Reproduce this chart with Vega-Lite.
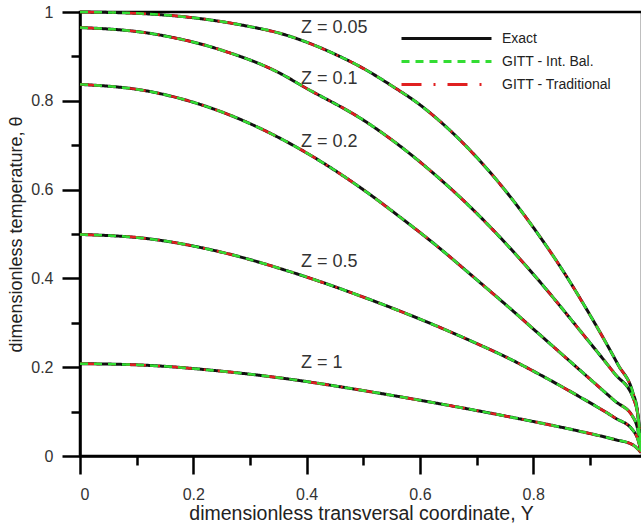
{
  "$schema": "https://vega.github.io/schema/vega-lite/v6.json",
  "width": 562,
  "height": 444,
  "autosize": {"type": "none"},
  "padding": {"left": 80, "top": 12, "right": 0, "bottom": 69},
  "background": "white",
  "config": {
    "view": {"stroke": "black", "strokeWidth": 2.5},
    "font": "Liberation Sans"
  },
  "resolve": {"axis": {"x": "independent", "y": "independent"}},
  "datasets": {
    "curves": [
      {"Z": "0.05", "Y": 0, "theta": 1.0},
      {"Z": "0.05", "Y": 0.1, "theta": 0.997},
      {"Z": "0.05", "Y": 0.2, "theta": 0.987},
      {"Z": "0.05", "Y": 0.3, "theta": 0.967},
      {"Z": "0.05", "Y": 0.353, "theta": 0.952},
      {"Z": "0.05", "Y": 0.4, "theta": 0.932},
      {"Z": "0.05", "Y": 0.45, "theta": 0.905},
      {"Z": "0.05", "Y": 0.5, "theta": 0.873},
      {"Z": "0.05", "Y": 0.55, "theta": 0.834},
      {"Z": "0.05", "Y": 0.6, "theta": 0.791},
      {"Z": "0.05", "Y": 0.65, "theta": 0.737},
      {"Z": "0.05", "Y": 0.7, "theta": 0.673},
      {"Z": "0.05", "Y": 0.75, "theta": 0.599},
      {"Z": "0.05", "Y": 0.8, "theta": 0.515},
      {"Z": "0.05", "Y": 0.85, "theta": 0.422},
      {"Z": "0.05", "Y": 0.9, "theta": 0.318},
      {"Z": "0.05", "Y": 0.95, "theta": 0.205},
      {"Z": "0.05", "Y": 0.976, "theta": 0.142},
      {"Z": "0.05", "Y": 0.984, "theta": 0.1},
      {"Z": "0.05", "Y": 0.99, "theta": 0.01},
      {"Z": "0.1", "Y": 0, "theta": 0.965},
      {"Z": "0.1", "Y": 0.123, "theta": 0.952},
      {"Z": "0.1", "Y": 0.25, "theta": 0.914},
      {"Z": "0.1", "Y": 0.353, "theta": 0.862},
      {"Z": "0.1", "Y": 0.397, "theta": 0.83},
      {"Z": "0.1", "Y": 0.502, "theta": 0.755},
      {"Z": "0.1", "Y": 0.565, "theta": 0.698},
      {"Z": "0.1", "Y": 0.629, "theta": 0.631},
      {"Z": "0.1", "Y": 0.692, "theta": 0.557},
      {"Z": "0.1", "Y": 0.755, "theta": 0.474},
      {"Z": "0.1", "Y": 0.818, "theta": 0.383},
      {"Z": "0.1", "Y": 0.881, "theta": 0.285},
      {"Z": "0.1", "Y": 0.944, "theta": 0.185},
      {"Z": "0.1", "Y": 0.976, "theta": 0.132},
      {"Z": "0.1", "Y": 0.986, "theta": 0.081},
      {"Z": "0.1", "Y": 0.99, "theta": 0.01},
      {"Z": "0.2", "Y": 0, "theta": 0.837},
      {"Z": "0.2", "Y": 0.123, "theta": 0.821},
      {"Z": "0.2", "Y": 0.25, "theta": 0.775},
      {"Z": "0.2", "Y": 0.376, "theta": 0.7},
      {"Z": "0.2", "Y": 0.502, "theta": 0.598},
      {"Z": "0.2", "Y": 0.565, "theta": 0.538},
      {"Z": "0.2", "Y": 0.629, "theta": 0.474},
      {"Z": "0.2", "Y": 0.692, "theta": 0.406},
      {"Z": "0.2", "Y": 0.755, "theta": 0.337},
      {"Z": "0.2", "Y": 0.818, "theta": 0.266},
      {"Z": "0.2", "Y": 0.881, "theta": 0.195},
      {"Z": "0.2", "Y": 0.944, "theta": 0.124},
      {"Z": "0.2", "Y": 0.976, "theta": 0.088},
      {"Z": "0.2", "Y": 0.986, "theta": 0.05},
      {"Z": "0.2", "Y": 0.99, "theta": 0.01},
      {"Z": "0.5", "Y": 0, "theta": 0.499},
      {"Z": "0.5", "Y": 0.123, "theta": 0.489},
      {"Z": "0.5", "Y": 0.25, "theta": 0.459},
      {"Z": "0.5", "Y": 0.376, "theta": 0.413},
      {"Z": "0.5", "Y": 0.502, "theta": 0.357},
      {"Z": "0.5", "Y": 0.629, "theta": 0.293},
      {"Z": "0.5", "Y": 0.692, "theta": 0.258},
      {"Z": "0.5", "Y": 0.755, "theta": 0.221},
      {"Z": "0.5", "Y": 0.818, "theta": 0.179},
      {"Z": "0.5", "Y": 0.881, "theta": 0.134},
      {"Z": "0.5", "Y": 0.944, "theta": 0.086},
      {"Z": "0.5", "Y": 0.976, "theta": 0.058},
      {"Z": "0.5", "Y": 0.986, "theta": 0.032},
      {"Z": "0.5", "Y": 0.99, "theta": 0.01},
      {"Z": "1", "Y": 0, "theta": 0.208},
      {"Z": "1", "Y": 0.123, "theta": 0.204},
      {"Z": "1", "Y": 0.25, "theta": 0.191},
      {"Z": "1", "Y": 0.376, "theta": 0.172},
      {"Z": "1", "Y": 0.502, "theta": 0.147},
      {"Z": "1", "Y": 0.629, "theta": 0.119},
      {"Z": "1", "Y": 0.755, "theta": 0.089},
      {"Z": "1", "Y": 0.881, "theta": 0.056},
      {"Z": "1", "Y": 0.944, "theta": 0.037},
      {"Z": "1", "Y": 0.976, "theta": 0.025},
      {"Z": "1", "Y": 0.99, "theta": 0.008}
    ],
    "labels": [
      {"label": "Z = 0.05", "Y": 0.39, "theta": 0.963},
      {"label": "Z = 0.1", "Y": 0.39, "theta": 0.85},
      {"label": "Z = 0.2", "Y": 0.39, "theta": 0.707},
      {"label": "Z = 0.5", "Y": 0.39, "theta": 0.436},
      {"label": "Z = 1", "Y": 0.39, "theta": 0.209}
    ]
  },
  "layer": [
    {
      "mark": {"type": "rule", "color": "#777777", "strokeWidth": 1.3, "strokeDash": [6, 4]},
      "encoding": {
        "x": {"datum": 0.98, "type": "quantitative", "axis": null}
      }
    },
    {
      "data": {"name": "curves"},
      "mark": {"type": "line", "strokeWidth": 3, "interpolate": "monotone"},
      "encoding": {
        "x": {
          "field": "Y", "type": "quantitative",
          "title": "dimensionless transversal coordinate, Y",
          "scale": {"domain": [0, 0.992], "nice": false, "zero": false},
          "axis": {
            "orient": "bottom",
            "values": [0, 0.2, 0.4, 0.6, 0.8],
            "labelExpr": "toString(datum.value)",
            "tickSize": 18,
            "grid": false,
            "domainColor": "black", "domainWidth": 2.5,
            "tickColor": "black", "tickWidth": 2.5,
            "labelFont": "Liberation Sans", "labelFontSize": 16, "labelColor": "#333333",
            "labelPadding": 12,
            "titleFont": "Liberation Sans", "titleFontSize": 19.5, "titleFontWeight": "normal",
            "titleColor": "#222222", "titlePadding": 2
          }
        },
        "y": {
          "field": "theta", "type": "quantitative",
          "title": "dimensionless temperature, θ",
          "scale": {"domain": [0, 1], "nice": false},
          "axis": {
            "orient": "left",
            "values": [0, 0.2, 0.4, 0.6, 0.8, 1],
            "labelExpr": "toString(datum.value)",
            "tickSize": 18,
            "grid": false,
            "domainColor": "black", "domainWidth": 2.5,
            "tickColor": "black", "tickWidth": 2.5,
            "labelFont": "Liberation Sans", "labelFontSize": 16, "labelColor": "#333333",
            "labelPadding": 9,
            "titleFont": "Liberation Sans", "titleFontSize": 18, "titleFontWeight": "normal",
            "titleColor": "#222222", "titlePadding": 5
          }
        },
        "detail": {"field": "Z"},
        "color": {
          "datum": "Exact",
          "scale": {"domain": ["Exact", "GITT - Int. Bal.", "GITT - Traditional"], "range": ["#111111", "#33dd33", "#e02020"]},
          "legend": {
            "orient": "none", "legendX": 320, "legendY": 15, "title": null,
            "symbolType": "stroke", "symbolSize": 8100, "symbolStrokeWidth": 3,
            "clipHeight": 23, "rowPadding": 0, "padding": 0,
            "labelFont": "Liberation Sans", "labelFontSize": 14, "labelColor": "#222222", "labelOffset": 9
          }
        },
        "strokeDash": {
          "datum": "Exact",
          "scale": {"domain": ["Exact", "GITT - Int. Bal.", "GITT - Traditional"], "range": [[1, 0], [8, 6], [20, 12, 2, 12]]},
          "legend": {
            "orient": "none", "legendX": 320, "legendY": 15, "title": null,
            "symbolType": "stroke", "symbolSize": 8100, "symbolStrokeWidth": 3,
            "clipHeight": 23, "rowPadding": 0, "padding": 0,
            "labelFont": "Liberation Sans", "labelFontSize": 14, "labelColor": "#222222", "labelOffset": 9
          }
        }
      }
    },
    {
      "data": {"name": "curves"},
      "mark": {"type": "line", "strokeWidth": 2.5, "interpolate": "monotone"},
      "encoding": {
        "x": {"field": "Y", "type": "quantitative", "axis": null},
        "y": {"field": "theta", "type": "quantitative", "axis": null},
        "detail": {"field": "Z"},
        "color": {"datum": "GITT - Traditional"},
        "strokeDash": {"datum": "GITT - Traditional"}
      }
    },
    {
      "data": {"name": "curves"},
      "mark": {"type": "line", "strokeWidth": 2.5, "interpolate": "monotone"},
      "encoding": {
        "x": {"field": "Y", "type": "quantitative", "axis": null},
        "y": {"field": "theta", "type": "quantitative", "axis": null},
        "detail": {"field": "Z"},
        "color": {"datum": "GITT - Int. Bal."},
        "strokeDash": {"datum": "GITT - Int. Bal."}
      }
    },
    {
      "data": {"name": "labels"},
      "mark": {"type": "text", "align": "left", "baseline": "middle", "fontSize": 18, "font": "Liberation Sans", "color": "#333333"},
      "encoding": {
        "x": {
          "field": "Y", "type": "quantitative",
          "axis": {
            "orient": "bottom", "values": [0.1, 0.3, 0.5, 0.7, 0.9], "labels": false,
            "tickSize": 9, "tickWidth": 2.5, "tickColor": "black", "domain": false, "grid": false, "title": null
          }
        },
        "y": {
          "field": "theta", "type": "quantitative",
          "axis": {
            "orient": "left", "values": [0.1, 0.3, 0.5, 0.7, 0.9], "labels": false,
            "tickSize": 9, "tickWidth": 2.5, "tickColor": "black", "domain": false, "grid": false, "title": null
          }
        },
        "text": {"field": "label"}
      }
    }
  ]
}
